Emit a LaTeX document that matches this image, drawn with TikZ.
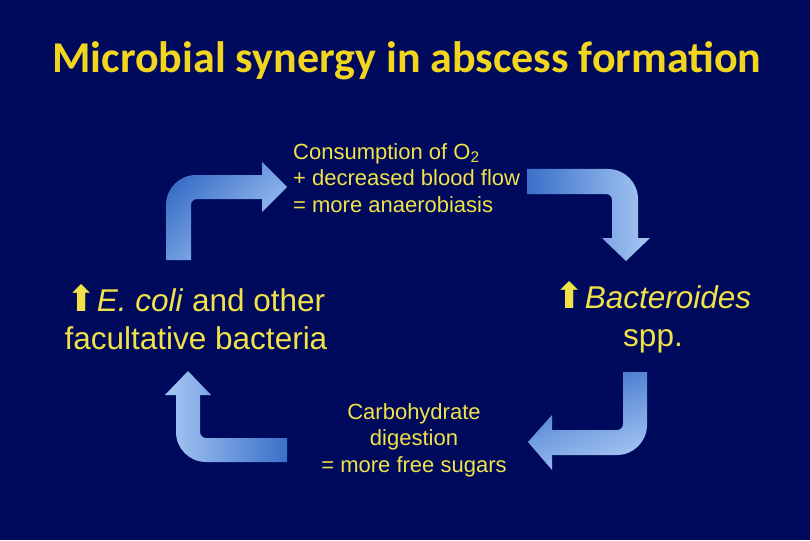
\documentclass[tikz,border=0pt]{standalone}
\usepackage{fontspec}
\setmainfont{Liberation Sans}
\newfontfamily\titlefont{Carlito}
\newfontfamily\arrfont{DejaVu Sans}
\begin{document}
\begin{tikzpicture}[x=1pt,y=-1pt]
\definecolor{bg}{HTML}{000A5C}
\definecolor{ttl}{HTML}{F2D51E}
\definecolor{txt}{HTML}{F2E24A}
\definecolor{dk}{HTML}{3A70C8}
\definecolor{lt}{HTML}{A8C8F4}
\tikzset{lab/.style={text=txt,inner sep=0pt,font=\fontsize{22}{26.5}\selectfont},
  big/.style={text=txt,inner sep=0pt,font=\fontsize{31.5}{38}\selectfont}}
\fill[bg] (0,0) rectangle (810,540);
\useasboundingbox (0,0) rectangle (810,540);
% title
\node[text=ttl,font=\titlefont\bfseries\fontsize{44}{46}\selectfont] (title) at (407,61) {Microbial synergy in abscess formation};
% arrows
\shade[top color=lt,bottom color=dk,shading angle=225]
 (166,260) -- (166,205) arc(180:270:30) -- (262,175) -- (262,162) -- (287,187) -- (262,212) -- (262,199)
 -- (197,199) arc(270:180:6) -- (191,260) -- cycle;
\shade[left color=dk,right color=lt]
 (527,169) -- (608,169) arc(-90:0:30) -- (638,238) -- (650,238) -- (626,261) -- (602,238) -- (612,238)
 -- (612,200) arc(0:-90:6) -- (527,194) -- cycle;
\shade[top color=dk,bottom color=lt,shading angle=20]
 (647,372) -- (647,425) arc(0:90:30) -- (552,455) -- (552,470) -- (528,442) -- (552,415) -- (552,430)
 -- (617,430) arc(90:0:6) -- (623,372) -- cycle;
\shade[left color=lt,right color=dk]
 (287,462) -- (206,462) arc(90:180:30) -- (176,395) -- (165,395) -- (188,371) -- (211,395) -- (200,395)
 -- (200,432) arc(180:90:6) -- (287,438) -- cycle;
% texts
\node[lab,anchor=north west,align=left] (top) at (293,143) {Consumption of O\textsubscript{2}\\+ decreased blood flow\\= more anaerobiasis};
\node[lab,align=center] (bot) at (414,440) {Carbohydrate\\digestion\\= more free sugars};
\node[big,align=center] (left) at (196,317) {{\arrfont\fontsize{36}{36}\selectfont\char"2B06}\textit{E. coli} and other\\facultative bacteria};
\node[big,align=center] (right) at (653,317) {{\arrfont\fontsize{36}{36}\selectfont\char"2B06}\textit{Bacteroides}\\spp.};
\end{tikzpicture}
\end{document}
